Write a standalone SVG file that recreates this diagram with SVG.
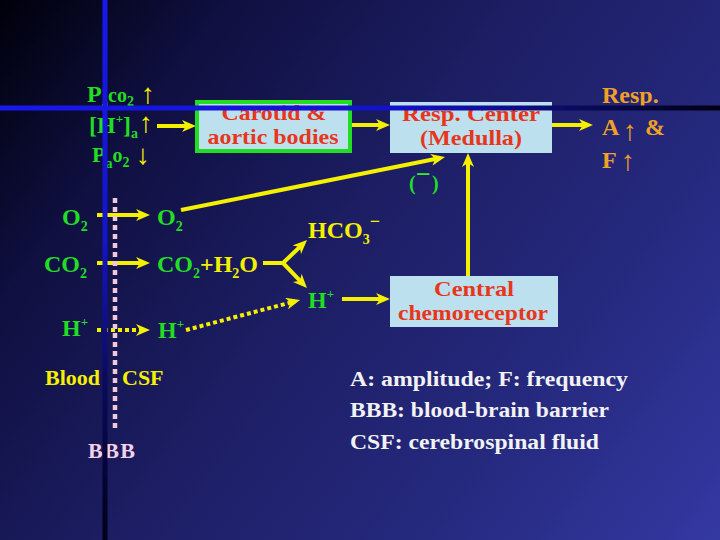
<svg xmlns="http://www.w3.org/2000/svg" width="720" height="540" viewBox="0 0 720 540">
<style>
text{font-family:"Liberation Serif","Times New Roman",serif;font-weight:bold}
.g{fill:#22dd22}
.y{fill:#f5f000}
.r{fill:#e8361c}
.o{fill:#f0a028}
.w{fill:#f2f2f2}
.p{fill:#f2d2e6}
.l24{font-size:24px}
.bx{font-size:21px}
.box{fill:#bde0ee}
.ln{stroke:#f5f000;stroke-width:4;fill:none}
.dot{stroke-dasharray:4 3}
.arr{font-size:28px}
</style>
<defs>
<linearGradient id="bg" gradientUnits="userSpaceOnUse" x1="0" y1="0" x2="720" y2="540">
<stop offset="0" stop-color="#00000a"/>
<stop offset="0.2" stop-color="#0f0f40"/>
<stop offset="0.45" stop-color="#1c1d62"/>
<stop offset="0.75" stop-color="#262a80"/>
<stop offset="1" stop-color="#3438a2"/>
</linearGradient>
<linearGradient id="hb" gradientUnits="userSpaceOnUse" x1="0" y1="0" x2="720" y2="0">
<stop offset="0" stop-color="#1818f0"/>
<stop offset="0.55" stop-color="#1212c8"/>
<stop offset="0.8" stop-color="#0a0a60"/>
<stop offset="1" stop-color="#000010"/>
</linearGradient>
<linearGradient id="vb" gradientUnits="userSpaceOnUse" x1="0" y1="0" x2="0" y2="540">
<stop offset="0" stop-color="#1818f0"/>
<stop offset="0.45" stop-color="#1414c8"/>
<stop offset="0.7" stop-color="#0a0a60"/>
<stop offset="1" stop-color="#000018"/>
</linearGradient>
<marker id="ah" viewBox="0 0 14 12" refX="9" refY="6" markerWidth="14" markerHeight="12" orient="auto" markerUnits="userSpaceOnUse">
<path d="M0,0 L14,6 L0,12 L4,6 z" fill="#f5f000"/>
</marker>
</defs>
<rect width="720" height="540" fill="url(#bg)"/>

<g id="connectors">
<line class="ln" x1="157" y1="126" x2="191" y2="126" marker-end="url(#ah)"/>
<line class="ln" x1="352" y1="125" x2="385" y2="125" marker-end="url(#ah)"/>
<line class="ln" x1="552" y1="125" x2="588" y2="125" marker-end="url(#ah)"/>
<line class="ln" x1="181" y1="210" x2="440.1" y2="158" marker-end="url(#ah)"/>
<line class="ln" x1="468" y1="276" x2="468" y2="158" marker-end="url(#ah)"/>
<line class="ln" x1="97" y1="215" x2="145" y2="215" marker-end="url(#ah)"/>
<line class="ln" x1="97" y1="263" x2="145" y2="263" marker-end="url(#ah)"/>
<line class="ln dot" x1="97" y1="330" x2="145" y2="330" marker-end="url(#ah)"/>
<line class="ln" x1="263" y1="263" x2="284" y2="263"/>
<line class="ln" x1="283" y1="263" x2="303.4" y2="243.5" marker-end="url(#ah)"/>
<line class="ln" x1="283" y1="263" x2="303.5" y2="284.4" marker-end="url(#ah)"/>
<line class="ln" x1="342" y1="299" x2="385" y2="299" marker-end="url(#ah)"/>
<line class="ln dot" x1="186" y1="330" x2="295.2" y2="301.3" marker-end="url(#ah)"/>
</g>

<g id="paco2">
<text x="87" y="102" class="g"><tspan font-size="24">P</tspan><tspan font-size="13" dy="5">a</tspan><tspan font-size="20" x="108" dy="-5">co</tspan><tspan font-size="14" dy="4">2</tspan><tspan class="y arr" x="141" dy="-3">↑</tspan></text>
</g>
<g id="h-a">
<text x="89" y="133" class="g"><tspan font-size="24">[H</tspan><tspan font-size="13" dy="-10">+</tspan><tspan font-size="24" dy="10">]</tspan><tspan font-size="14" dy="5">a</tspan><tspan class="y arr" x="139" dy="-6">↑</tspan></text>
</g>
<g id="pao2">
<text x="92" y="162" class="g"><tspan font-size="22">P</tspan><tspan font-size="14" dy="6">a</tspan><tspan font-size="20" dy="-6">o</tspan><tspan font-size="14" dy="5">2</tspan><tspan class="y arr" x="136" dy="-3">↓</tspan></text>
</g>

<g id="carotid">
<rect x="197" y="102" width="153" height="49" class="box" stroke="#22dd22" stroke-width="4"/>
<text x="274" y="120" class="r bx" text-anchor="middle" textLength="105" lengthAdjust="spacingAndGlyphs">Carotid &amp;</text>
<text x="273" y="144" class="r bx" text-anchor="middle" textLength="131" lengthAdjust="spacingAndGlyphs">aortic bodies</text>
</g>

<g id="resp-center">
<rect x="390" y="102" width="162" height="51" class="box"/>
<text x="471" y="121" class="r bx" text-anchor="middle" textLength="138" lengthAdjust="spacingAndGlyphs">Resp. Center</text>
<text x="471" y="145" class="r bx" text-anchor="middle" textLength="102" lengthAdjust="spacingAndGlyphs">(Medulla)</text>
</g>

<g id="resp-out">
<text x="602" y="103" class="o l24">Resp.</text>
<text x="602" y="135" class="o l24">A<tspan x="623" class="arr" dy="5">↑</tspan><tspan x="645" dy="-5">&amp;</tspan></text>
<text x="602" y="168" class="o l24">F<tspan x="621" class="arr" dy="2">↑</tspan></text>
</g>

<g id="inhibit">
<text x="409" y="190" class="g" font-size="20">(<tspan x="416" y="183" font-size="26" fill="#33ee33">−</tspan><tspan x="432" y="190">)</tspan></text>
</g>

<g id="o2-blood"><text x="62" y="225" class="g l24">O<tspan font-size="14" dy="6">2</tspan></text></g>
<g id="o2-csf"><text x="157" y="225" class="g l24">O<tspan font-size="14" dy="6">2</tspan></text></g>
<g id="co2-blood"><text x="44" y="272" class="g l24">CO<tspan font-size="14" dy="6">2</tspan></text></g>
<g id="co2-csf"><text x="157" y="272" class="g l24">CO<tspan font-size="14" dy="6">2</tspan><tspan class="y" dy="-6">+H</tspan><tspan class="y" font-size="14" dy="6">2</tspan><tspan class="y" dy="-6">O</tspan></text></g>
<g id="hco3"><text x="308" y="238" class="y l24">HCO<tspan font-size="14" dy="6">3</tspan><tspan font-size="18" dy="-17">−</tspan></text></g>
<g id="h-csf2"><text x="308" y="308" class="g l24">H<tspan font-size="13" dy="-10">+</tspan></text></g>
<g id="h-blood"><text x="62" y="336" class="g l24">H<tspan font-size="13" dy="-10">+</tspan></text></g>
<g id="h-csf"><text x="158" y="338" class="g l24">H<tspan font-size="13" dy="-10">+</tspan></text></g>

<g id="central">
<rect x="390" y="276" width="168" height="51" class="box"/>
<text x="474" y="296" class="r bx" text-anchor="middle" textLength="80" lengthAdjust="spacingAndGlyphs">Central</text>
<text x="473" y="320" class="r bx" text-anchor="middle" textLength="150" lengthAdjust="spacingAndGlyphs">chemoreceptor</text>
</g>

<g id="labels">
<text x="45" y="385" class="y" font-size="22">Blood</text>
<text x="122" y="385" class="y" font-size="22">CSF</text>
<text x="88" y="458" class="p" font-size="22" letter-spacing="1.5">BBB</text>
</g>

<g id="legend">
<text x="350" y="386" class="w" font-size="20" textLength="278" lengthAdjust="spacingAndGlyphs">A: amplitude; F: frequency</text>
<text x="350" y="417" class="w" font-size="20" textLength="259" lengthAdjust="spacingAndGlyphs">BBB: blood-brain barrier</text>
<text x="350" y="449" class="w" font-size="20" textLength="249" lengthAdjust="spacingAndGlyphs">CSF: cerebrospinal fluid</text>
</g>

<g id="bbb-line">
<line x1="115" y1="198" x2="115" y2="432" stroke="#f0c8dc" stroke-width="4.5" stroke-dasharray="5 4"/>
</g>
<g id="guides">
<rect x="102.5" y="0" width="5" height="540" fill="url(#vb)"/>
<rect x="0" y="105.5" width="720" height="5" fill="url(#hb)"/>
</g>
</svg>
